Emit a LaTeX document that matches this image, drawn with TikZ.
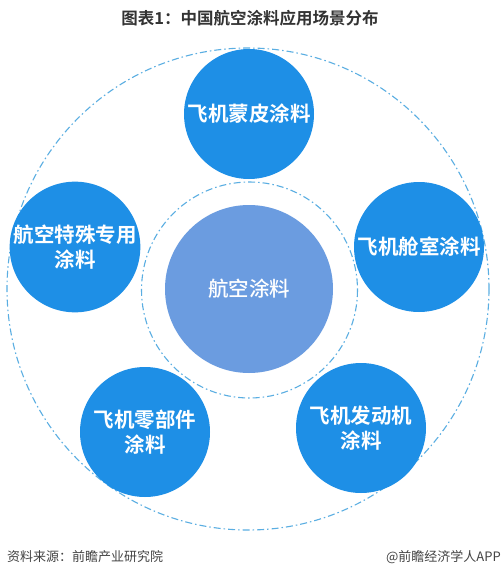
\documentclass[tikz,border=0pt]{standalone}
\usepackage{fontspec}
\setmainfont{Noto Sans CJK SC}
\newfontfamily\cjkb{Noto Sans CJK SC Bold}
\newfontfamily\cjkm{Noto Sans CJK SC Medium}
\definecolor{satblue}{HTML}{1E8FE6}
\definecolor{midblue}{HTML}{6B9CE0}
\definecolor{dashblue}{HTML}{5AAEE2}
\definecolor{titlegray}{HTML}{333333}
\definecolor{footgray}{HTML}{444444}
\begin{document}
\begin{tikzpicture}[x=1pt,y=-1pt,
  sat/.style={circle,fill=satblue,minimum size=130pt,inner sep=0pt,text=white,align=center,font=\cjkb\fontsize{20.5}{25}\selectfont},
  ring/.style={draw=dashblue,line width=1.1pt,dash pattern=on 7pt off 3pt on 1.5pt off 3pt},
  lbl/.style={inner sep=0pt}]
\useasboundingbox (0,0) rectangle (501,578);
\fill[white] (0,0) rectangle (501,578);
\node[lbl,text=titlegray,font=\cjkb\fontsize{16.5}{18}\selectfont] (title) at (250,18) {图表1：中国航空涂料应用场景分布};
\draw[ring] (248,289) circle (241);
\draw[ring] (249.5,290) circle (108);
\node[circle,fill=midblue,minimum size=168pt,inner sep=0pt,text=white,font=\cjkm\fontsize{20.5}{24}\selectfont] (center) at (249,289) {航空涂料};
\node[sat] (top) at (249,114) {飞机蒙皮涂料};
\node[sat] (right) at (419,247) {飞机舱室涂料};
\node[sat] (br) at (361,428) {飞机发动机\\涂料};
\node[sat] (bl) at (145,432) {飞机零部件\\涂料};
\node[sat] (left) at (75,247) {航空特殊专用\\涂料};
\node[lbl,anchor=west,text=footgray,font=\fontsize{13}{15}\selectfont] (src) at (7,557) {资料来源：前瞻产业研究院};
\node[lbl,anchor=east,text=footgray,font=\fontsize{13}{15}\selectfont] (app) at (501,557) {@前瞻经济学人APP};
\end{tikzpicture}
\end{document}
